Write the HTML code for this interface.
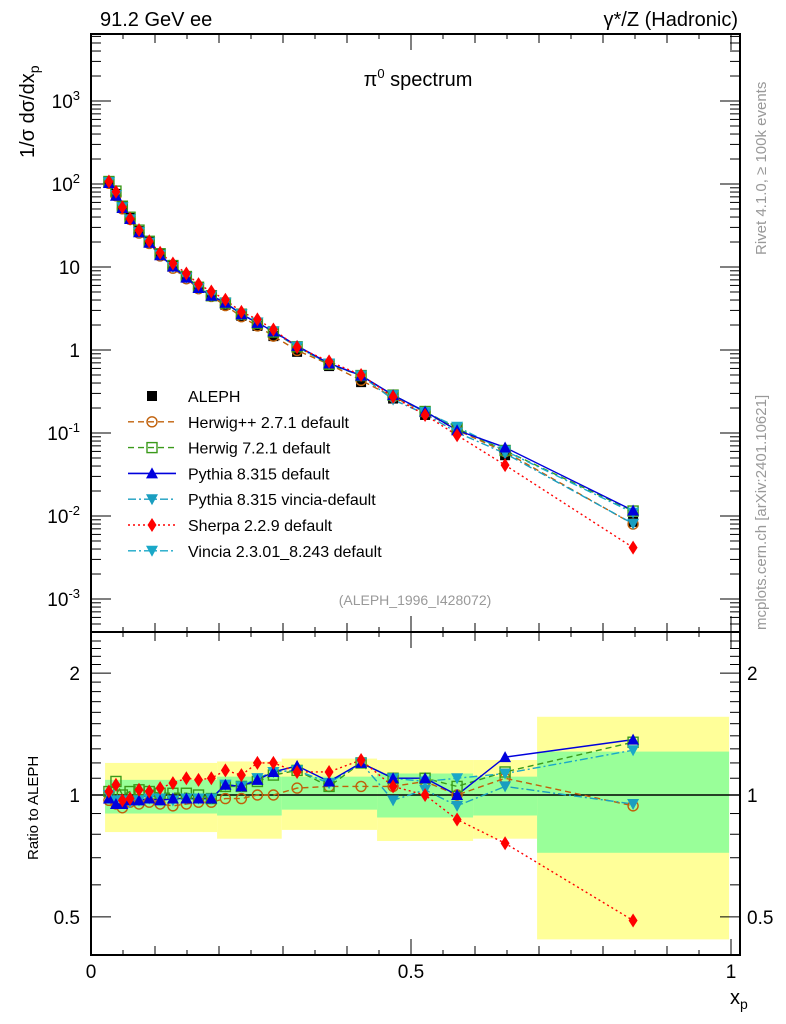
<!DOCTYPE html>
<html><head><meta charset="utf-8"><style>
body{margin:0;background:#fff}
svg{display:block;font-family:"Liberation Sans","DejaVu Sans",sans-serif}
</style></head><body>
<svg id="c" width="786" height="1024" viewBox="0 0 786 1024">
<g id="bands"></g><g id="axes"></g><g id="series"></g><g id="txt"></g>
</svg>
<script>
// ---- data ----
const xp = [0.028,0.039,0.049,0.061,0.075,0.091,0.108,0.128,0.149,0.168,0.188,0.210,0.235,0.260,0.285,0.322,0.372,0.422,0.472,0.522,0.572,0.647,0.847];
const aleph = [105,76,54,39,27,20,14.3,10.3,7.6,5.7,4.6,3.5,2.57,1.95,1.47,0.95,0.64,0.41,0.26,0.165,0.108,0.054,0.0085];
const rHerwigpp = [0.97,0.95,0.93,0.96,0.95,0.96,0.95,0.94,0.95,0.96,0.96,0.98,0.98,1.0,1.0,1.04,1.05,1.05,1.05,1.08,1.0,1.1,0.94];
const rHerwig7 = [1.02,1.08,1.0,1.02,1.03,1.02,1.01,1.01,1.01,1.0,0.98,1.05,1.05,1.08,1.12,1.15,1.05,1.2,1.1,1.1,1.05,1.14,1.35];
const rPythia = [0.98,0.95,0.95,0.97,0.97,0.98,0.97,0.98,0.98,0.98,0.98,1.06,1.05,1.09,1.14,1.18,1.08,1.2,1.1,1.1,1.0,1.24,1.37];
const rPyVincia = [1.0,0.97,0.97,0.96,0.97,0.98,0.98,0.97,0.98,0.98,0.98,1.06,1.05,1.1,1.14,1.15,1.07,1.2,0.97,1.03,0.94,1.05,0.95];
const rSherpa = [1.02,1.06,0.97,0.98,1.03,1.02,1.04,1.07,1.1,1.09,1.1,1.15,1.12,1.2,1.2,1.14,1.14,1.22,1.05,1.0,0.87,0.76,0.49];
const rVincia = [1.0,0.97,0.97,0.96,0.97,0.98,0.98,0.97,0.98,0.98,0.98,1.06,1.05,1.1,1.14,1.15,1.07,1.2,1.1,1.08,1.1,1.13,1.29];
const binEdges = [0.022,0.197,0.298,0.447,0.597,0.697,0.997];
const yellowHi = [1.20,1.21,1.23,1.22,1.22,1.56];
const yellowLo = [0.81,0.78,0.82,0.77,0.78,0.44];
const greenHi = [1.09,1.11,1.11,1.13,1.11,1.28];
const greenLo = [0.90,0.89,0.92,0.88,0.89,0.72];
const mainExps = ["-3","-2","-1","","","2","3"];

// ---- scales ----
const L=91,R=740,T=34,M=632,B=955;
const X=x=>91+640*x;
const YM=v=>350-83*Math.log10(v);
const YR=r=>795-405*Math.log10(r);
const NS="http://www.w3.org/2000/svg";
function mk(parent,tag,attrs){const e=document.createElementNS(NS,tag);for(const k in attrs)e.setAttribute(k,attrs[k]);(typeof parent==='string'?document.getElementById(parent):parent).appendChild(e);return e;}

for(let i=0;i<yellowHi.length;i++){
  let e=mk('bands','rect',{x:X(binEdges[i]),y:YR(yellowHi[i]),width:X(binEdges[i+1])-X(binEdges[i]),height:YR(yellowLo[i])-YR(yellowHi[i]),fill:'#ffff99'});
  
  
}
for(let i=0;i<greenHi.length;i++){
  let e=mk('bands','rect',{x:X(binEdges[i]),y:YR(greenHi[i]),width:X(binEdges[i+1])-X(binEdges[i]),height:YR(greenLo[i])-YR(greenHi[i]),fill:'#99ff99'});
  
  
}

function line(x1,y1,x2,y2,w,c,dash){const a={x1,y1,x2,y2,stroke:c||'#000','stroke-width':w||1};if(dash)a['stroke-dasharray']=dash;return mk('axes','line',a);}
let f1=mk('axes','rect',{x:L,y:T,width:R-L,height:M-T,fill:'none',stroke:'#000','stroke-width':2});

let f2=mk('axes','rect',{x:L,y:M,width:R-L,height:B-M,fill:'none',stroke:'#000','stroke-width':2});

line(L,YR(1),R,YR(1),1.5,'#000');
for(let k=0;k<=20;k++){const x=X(k*0.05);if(x>R-1)break;const len=(k%10==0)?16:(k%2==0?9:5);
  line(x,B,x,B-len,1);line(x,M,x,M+len,1);line(x,M,x,M-len,1);line(x,T,x,T+len,1);}
for(let d=-4;d<=4;d++){for(let m=1;m<10;m++){const v=m*Math.pow(10,d);const y=YM(v);if(y<T||y>M)continue;const len=m==1?20:10;line(L,y,L+len,y,1);line(R,y,R-len,y,1);}}
mainExps.forEach((ex,i)=>{const y=YM(Math.pow(10,i-3));
  let e=mk('txt','text',{x:80,y:y+7,'text-anchor':'end','font-size':19});
  
  if(i==3){e.textContent='1';}else if(i==4){e.textContent='10';}
  else{let a=mk(e,'tspan',{});a.textContent='10';let b=mk(e,'tspan',{dy:-8,'font-size':13});b.textContent=ex;}
});
[["2",2],["1",1],["0.5",0.5]].forEach(([t,r])=>{let e=mk('txt','text',{x:80,y:YR(r)+7,'text-anchor':'end','font-size':19});e.textContent=t;
  
  let e2=mk('txt','text',{x:747,y:YR(r)+7,'font-size':19});e2.textContent=t;
  });
for(let r=0.4;r<=2.5;r+=0.1){const y=YR(r);if(y<M||y>B)continue;const maj=Math.abs(r-1)<1e-6||Math.abs(r-2)<1e-6||Math.abs(r-0.5)<1e-6;const len=maj?20:10;line(L,y,L+len,y,1);line(R,y,R-len,y,1);}
[["0",0],["0.5",0.5],["1",1]].forEach(([t,x])=>{let e=mk('txt','text',{x:X(x),y:978,'text-anchor':'middle','font-size':19});e.textContent=t;
  });

function marker(g,type,cx,cy,col,name){let e;const s=5;
  if(type=='sq')e=mk(g,'rect',{x:cx-s,y:cy-s,width:2*s,height:2*s,fill:'#000'});
  else if(type=='circ')e=mk(g,'circle',{cx,cy,r:s,fill:'none',stroke:col,'stroke-width':1.4});
  else if(type=='osq')e=mk(g,'rect',{x:cx-s,y:cy-s,width:2*s,height:2*s,fill:'none',stroke:col,'stroke-width':1.4});
  else if(type=='tri')e=mk(g,'polygon',{points:`${cx},${cy-6} ${cx-6},${cy+5} ${cx+6},${cy+5}`,fill:col});
  else if(type=='itri')e=mk(g,'polygon',{points:`${cx},${cy+6} ${cx-6},${cy-5} ${cx+6},${cy-5}`,fill:col});
  else if(type=='dia')e=mk(g,'polygon',{points:`${cx},${cy-7} ${cx-4.5},${cy} ${cx},${cy+7} ${cx+4.5},${cy}`,fill:col});
  return e;}

const series=[
 {r:rHerwigpp,col:'#c0600a',m:'circ',dash:'6,4',name:'herwigpp'},
 {r:rHerwig7,col:'#3a9a1a',m:'osq',dash:'6,4',name:'herwig7'},
 {r:rPyVincia,col:'#1a9ec0',m:'itri',dash:'8,3,2,3',name:'pythia-vincia'},
 {r:rVincia,col:'#1aa8c8',m:'itri',dash:'8,3,2,3',name:'vincia'},
 {r:rPythia,col:'#0000dd',m:'tri',dash:null,name:'pythia'},
 {r:rSherpa,col:'#ff0000',m:'dia',dash:'2,3',name:'sherpa'}
];
series.forEach(s=>{
  let pm=s.r.map((r,i)=>X(xp[i])+','+YM(aleph[i]*r)).join(' ');
  let a={points:pm,fill:'none',stroke:s.col,'stroke-width':1.4};if(s.dash)a['stroke-dasharray']=s.dash;
  let e=mk('series','polyline',a);
  let pr=s.r.map((r,i)=>X(xp[i])+','+YR(r)).join(' ');
  let a2={points:pr,fill:'none',stroke:s.col,'stroke-width':1.4};if(s.dash)a2['stroke-dasharray']=s.dash;
  let e2=mk('series','polyline',a2);
});
aleph.forEach((v,i)=>marker('series','sq',X(xp[i]),YM(v),'#000','aleph-point'));
series.forEach(s=>{s.r.forEach((r,i)=>{
  marker('series',s.m,X(xp[i]),YM(aleph[i]*r),s.col,s.name+'-point');
  marker('series',s.m,X(xp[i]),YR(r),s.col,s.name+'-ratio-point');});});

const leg=[['ALEPH','sq','#000',null],['Herwig++ 2.7.1 default','circ','#c0600a','6,4'],['Herwig 7.2.1 default','osq','#3a9a1a','6,4'],
 ['Pythia 8.315 default','tri','#0000dd',null],['Pythia 8.315 vincia-default','itri','#1a9ec0','8,3,2,3'],['Sherpa 2.2.9 default','dia','#ff0000','2,3'],['Vincia 2.3.01_8.243 default','itri','#1aa8c8','8,3,2,3']];
leg.forEach((l,i)=>{const y=396+i*25.8;
  if(i>0){let a={x1:128,y1:y,x2:176,y2:y,stroke:l[2],'stroke-width':1.4};if(l[3])a['stroke-dasharray']=l[3];else a['stroke-width']=1.6;const e=mk('txt','line',a);}
  marker('txt',l[1],152,y,l[2],'legend-marker');
  let t=mk('txt','text',{x:188,y:y+6,'font-size':16});t.textContent=l[0];
  });
</script>
<svg width="786" height="1024" style="position:absolute;left:0;top:0">
<text x="100" y="26" font-size="20">91.2 GeV ee</text>
<text x="738" y="26" font-size="20" text-anchor="end">γ*/Z (Hadronic)</text>
<text x="418" y="86" font-size="20" text-anchor="middle">π<tspan dy="-8" font-size="13">0</tspan><tspan dy="8"> spectrum</tspan></text>
<text transform="translate(34,158) rotate(-90)" font-size="20">1/σ  dσ/dx<tspan dy="5" font-size="14">p</tspan></text>
<text transform="translate(38,860) rotate(-90)" font-size="15">Ratio to ALEPH</text>
<text x="730" y="1004" font-size="20">x<tspan dy="5" font-size="14">p</tspan></text>
<text transform="translate(766,255) rotate(-90)" font-size="15" fill="#999">Rivet 4.1.0, ≥ 100k events</text>
<text transform="translate(766,630) rotate(-90)" font-size="15" fill="#999">mcplots.cern.ch [arXiv:2401.10621]</text>
<text x="415" y="605" font-size="14" fill="#999" text-anchor="middle">(ALEPH_1996_I428072)</text>
</svg>
</body></html>
